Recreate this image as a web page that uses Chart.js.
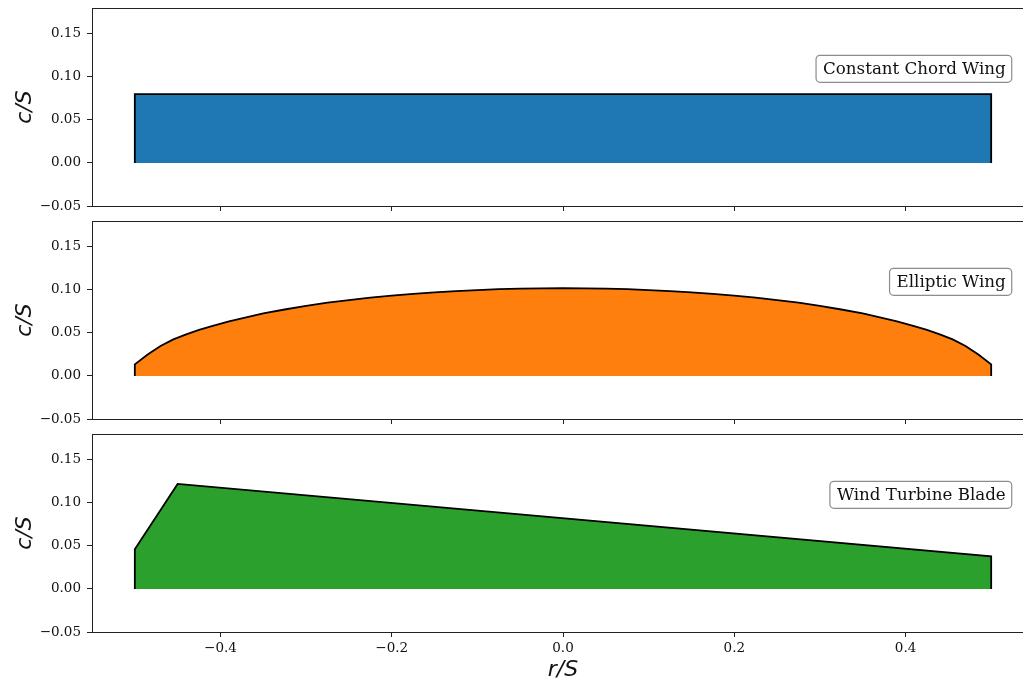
<!DOCTYPE html>
<html><head><meta charset="utf-8">
<script src="https://cdn.jsdelivr.net/npm/chart.js@4.4.0/dist/chart.umd.min.js"></script>
<style>
html,body{margin:0;padding:0;background:#fff;overflow:hidden;width:1023px;height:681px;position:relative}
canvas{position:absolute;left:0}
</style></head><body>
<canvas id="c0" width="1040" height="213" style="top:0px"></canvas>
<canvas id="c1" width="1040" height="213" style="top:213px"></canvas>
<canvas id="c2" width="1040" height="255" style="top:426px"></canvas>
<script>
// ---- data ----
const xTicks = [-0.4, -0.2, 0, 0.2, 0.4];
const yTicks = [-0.05, 0, 0.05, 0.10, 0.15];
const wingNames = ['Constant Chord Wing', 'Elliptic Wing', 'Wind Turbine Blade'];
const wingColors = ['#1f77b4', '#ff7f0e', '#2ca02c'];

const constR = [-0.5, -0.5, 0.5, 0.5];
const constC = [0, 0.08, 0.08, 0];

const ellR = [-0.5, -0.5, -0.485, -0.47, -0.455, -0.44, -0.425, -0.41, -0.39, -0.37, -0.35, -0.325, -0.30, -0.275, -0.25,
              -0.225, -0.20, -0.175, -0.15, -0.125, -0.10, -0.075, -0.05, -0.025, 0,
              0.025, 0.05, 0.075, 0.10, 0.125, 0.15, 0.175, 0.20, 0.225, 0.25, 0.275, 0.30, 0.325, 0.35,
              0.37, 0.39, 0.41, 0.425, 0.44, 0.455, 0.47, 0.485, 0.5, 0.5];
const ellC = [0, 0.0135, 0.0250, 0.0348, 0.0425, 0.0484, 0.0535, 0.0580, 0.0634, 0.0681, 0.0728, 0.0772, 0.0815, 0.0851, 0.0882,
              0.0909, 0.0934, 0.0954, 0.0972, 0.0986, 0.0998, 0.1008, 0.1014, 0.1018, 0.1019,
              0.1018, 0.1014, 0.1008, 0.0998, 0.0986, 0.0972, 0.0954, 0.0934, 0.0909, 0.0882, 0.0851, 0.0815, 0.0772, 0.0728,
              0.0681, 0.0634, 0.0580, 0.0535, 0.0484, 0.0425, 0.0348, 0.0250, 0.0135, 0];

const windR = [-0.5, -0.5, -0.45, 0.5, 0.5];
const windC = [0, 0.046, 0.122, 0.038, 0];

const shapesR = [constR, ellR, windR];
const shapesC = [constC, ellC, windC];

const xMin = -0.55, xMax = 0.55, yMin = -0.05, yMax = 0.18;

// ---- rendering ----
const fmt = (v, d) => (v < -1e-12 ? '\u2212' : '') + Math.abs(v).toFixed(d);

const framePlugin = {
  id: 'frameBox',
  afterDatasetsDraw(chart, args, opts) {
    const {ctx, chartArea: a} = chart;
    ctx.save();
    ctx.strokeStyle = '#222';
    ctx.lineWidth = 1;
    ctx.strokeRect(Math.round(a.left) + 0.5, Math.round(a.top) + 0.5, Math.round(a.right - a.left), Math.round(a.bottom - a.top));
    // annotation box
    ctx.font = '16.7px "DejaVu Serif"';
    const w = ctx.measureText(opts.text).width;
    const right = a.left + 0.97 * (a.right - a.left);
    const x0 = right - w;
    const cy = a.top + 0.307 * (a.bottom - a.top);
    ctx.beginPath();
    ctx.roundRect(x0 - 7, cy - 13.5, w + 13, 27, 4);
    ctx.fillStyle = '#fff';
    ctx.fill();
    ctx.strokeStyle = '#8c8c8c';
    ctx.lineWidth = 1.2;
    ctx.stroke();
    ctx.fillStyle = '#111';
    ctx.textBaseline = 'middle';
    ctx.textAlign = 'left';
    ctx.fillText(opts.text, x0, cy + 1);
    ctx.restore();
  }
};

function makeChart(i) {
  const canvas = document.getElementById('c' + i);
  const H = canvas.height;
  const isLast = i === 2;
  const pts = shapesR[i].map((r, k) => ({x: r, y: shapesC[i][k]}));
  return new Chart(canvas, {
    type: 'scatter',
    data: {datasets: [{
      data: pts,
      showLine: true,
      fill: 'shape',
      backgroundColor: wingColors[i],
      borderColor: '#000',
      borderWidth: 1.8,
      borderJoinStyle: 'miter',
      pointRadius: 0,
      pointHoverRadius: 0,
      tension: 0
    }]},
    plugins: [framePlugin],
    options: {
      responsive: false,
      animation: false,
      devicePixelRatio: 1,
      events: [],
      layout: {padding: {top: 8, left: 0, right: 6, bottom: 0}},
      plugins: {legend: {display: false}, tooltip: {enabled: false}, frameBox: {text: wingNames[i]}},
      scales: {
        x: {
          type: 'linear', min: xMin, max: xMax,
          afterBuildTicks: s => { s.ticks = xTicks.map(v => ({value: v})); },
          afterFit: s => { s.height = H - 206; s.paddingLeft = 0; s.paddingRight = 0; s.paddingTop = 0; s.paddingBottom = 0; },
          grid: {display: true, drawOnChartArea: false, drawTicks: true, tickLength: 5, color: '#222', lineWidth: 1},
          border: {display: false},
          ticks: {
            display: isLast, padding: 3, color: '#111', maxRotation: 0, autoSkip: false,
            font: {family: 'DejaVu Serif', size: 13.5},
            callback: v => fmt(v, 1)
          },
          title: {display: isLast, text: 'r/S', color: '#111', padding: {top: 0, bottom: 0},
                  font: {family: 'DejaVu Sans', style: 'italic', size: 22, lineHeight: 1}}
        },
        y: {
          type: 'linear', min: yMin, max: yMax,
          afterBuildTicks: s => { s.ticks = yTicks.map(v => ({value: v})); },
          afterFit: s => { s.width = 92; s.paddingTop = 0; s.paddingBottom = 0; s.paddingLeft = 0; s.paddingRight = 0; },
          grid: {display: true, drawOnChartArea: false, drawTicks: true, tickLength: 5, color: '#222', lineWidth: 1},
          border: {display: false},
          ticks: {
            padding: 6, color: '#111', autoSkip: false,
            font: {family: 'DejaVu Serif', size: 13.5},
            callback: v => fmt(v, 2)
          },
          title: {display: true, text: 'c/S', color: '#111', padding: {top: 14, bottom: 0},
                  font: {family: 'DejaVu Sans', style: 'italic', size: 22, lineHeight: 1}}
        }
      }
    }
  });
}
[0, 1, 2].forEach(makeChart);
</script>
</body></html>
